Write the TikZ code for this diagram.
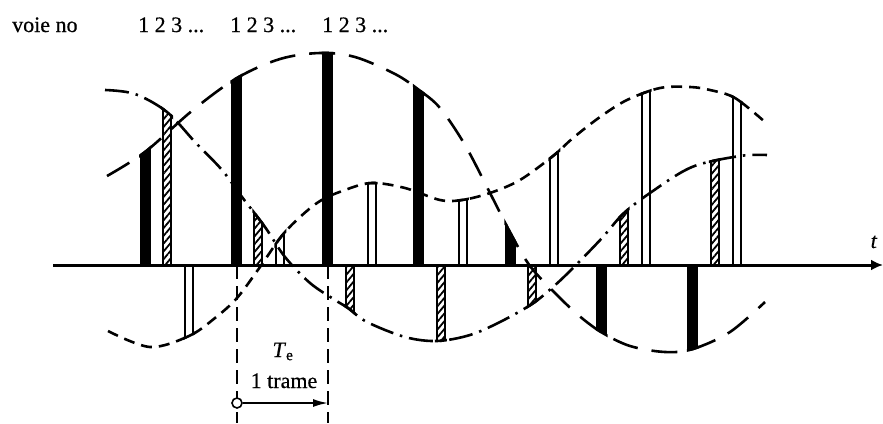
\documentclass[tikz,border=0pt]{standalone}
\usepackage{fontspec}
\setmainfont{Liberation Serif}[FakeBold=0.6]
\usetikzlibrary{arrows.meta,patterns.meta}

\newcommand{\cA}{plot[smooth,tension=0.55] coordinates {(107,176) (145,152) (193,110) (237,78) (280,59) (320,53) (355,57) (395,74) (419,90) (440,108) (465,145) (490,193) (512,236) (530,266) (552,290) (577,314) (601,332) (630,346) (665,352) (693,349) (730,332) (765,302)}}
\newcommand{\cB}{plot[smooth,tension=0.55] coordinates {(105,90) (135,94) (167,112) (195,142) (222,170) (242,197) (265,227) (285,257) (310,283) (335,300) (348,308) (367,322) (405,337) (437,341) (470,335) (500,322) (532,304) (553,287) (573,268) (602,238) (623,214) (650,193) (692,167) (740,156) (767,155)}}
\newcommand{\cC}{plot[smooth,tension=0.55] coordinates {(108,331) (150,347) (189,336) (215,318) (237,298) (260,267) (285,232) (317,203) (345,190) (372,183) (405,188) (440,200) (462,200) (490,193) (520,180) (553,156) (573,138) (600,117) (627,100) (660,88) (690,87) (710,90) (735,98) (765,122)}}

\newcommand{\barcap}[2]{%
  \begin{scope}\clip ({#2-6},0) rectangle ({#2+6},423); \draw[line width=2.6pt] #1; \end{scope}}
\newcommand{\blackbar}[2]{%
  \begin{scope}\clip #1 -- (780,265) -- (90,265) -- cycle;
    \fill ({#2-5.5},0) rectangle ({#2+5.5},423);\end{scope}\barcap{#1}{#2}}
\newcommand{\hatchbar}[2]{%
  \begin{scope}\clip #1 -- (780,265) -- (90,265) -- cycle;
    \fill[pattern={Lines[angle=50,distance=5pt,line width=1.8pt]}] ({#2-4},0) rectangle ({#2+4},423);
    \draw[barline] ({#2-4},0) -- ({#2-4},423) ({#2+4},0) -- ({#2+4},423);\end{scope}\barcap{#1}{#2}}
\newcommand{\whitebar}[2]{%
  \begin{scope}\clip #1 -- (780,265) -- (90,265) -- cycle;
    \draw[barline] ({#2-4},0) -- ({#2-4},423) ({#2+4},0) -- ({#2+4},423);\end{scope}\barcap{#1}{#2}}

\newcommand{\lbl}{\fontsize{22}{26}\selectfont}

\tikzset{
  barline/.style={line width=2pt},
  cone/.style={line width=2.6pt, dash pattern=on 26pt off 14pt},
  ctwo/.style={line width=2.6pt, dash pattern=on 24pt off 7pt on 2.5pt off 7pt},
  cthree/.style={line width=2.6pt, dash pattern=on 11pt off 7pt},
  axisline/.style={line width=3pt, -{Latex[length=12pt,width=11pt]}},
  vdash/.style={line width=2pt, dash pattern=on 14pt off 7pt},
  lab/.style={inner sep=0pt, font=\lbl}
}

\begin{document}
\begin{tikzpicture}[x=1pt,y=-1pt]
\useasboundingbox (0,0) rectangle (883,423);

% bars
\foreach \k in {0,...,6}{
  \pgfmathsetmacro{\xa}{145+91.33*\k}
  \pgfmathsetmacro{\xb}{167+91.33*\k}
  \pgfmathsetmacro{\xc}{189+91.33*\k}
  \blackbar{\cA}{\xa}
  \hatchbar{\cB}{\xb}
  \whitebar{\cC}{\xc}
}

% curves
\draw[cone] \cA;
\draw[ctwo] \cB;
\draw[cthree] \cC;

% axis
\coordinate (ax0) at (53,265);
\coordinate (ax1) at (883,265);
\draw[axisline] (ax0) -- (ax1);
\node[lab, anchor=base] (tlab) at (874,248) {\textit{t}};

% frame period
\coordinate (d1t) at (237,265);
\coordinate (d1b) at (237,423);
\coordinate (d2t) at (328,265);
\coordinate (d2b) at (328,423);
\draw[vdash] (d1t) -- (d1b);
\draw[vdash] (d2t) -- (d2b);
\node[circle, draw, fill=white, line width=1.6pt, minimum size=10pt, inner sep=0pt] (o) at (237,403) {};
\coordinate (e) at (328,403);
\draw[line width=1.8pt, -{Latex[length=15pt,width=8pt]}] (o) -- (e);
\node[lab, anchor=base] (te) at (283,357) {\textit{T}\textsubscript{e}};
\node[lab, anchor=base] (trame) at (284,388) {1 trame};

% labels
\node[lab, anchor=base west] (voie) at (12,32) {voie no};
\node[lab, anchor=base west] (g1) at (138,32) {1 2 3 ...};
\node[lab, anchor=base west] (g2) at (230,32) {1 2 3 ...};
\node[lab, anchor=base west] (g3) at (322,32) {1 2 3 ...};
\end{tikzpicture}
\end{document}
